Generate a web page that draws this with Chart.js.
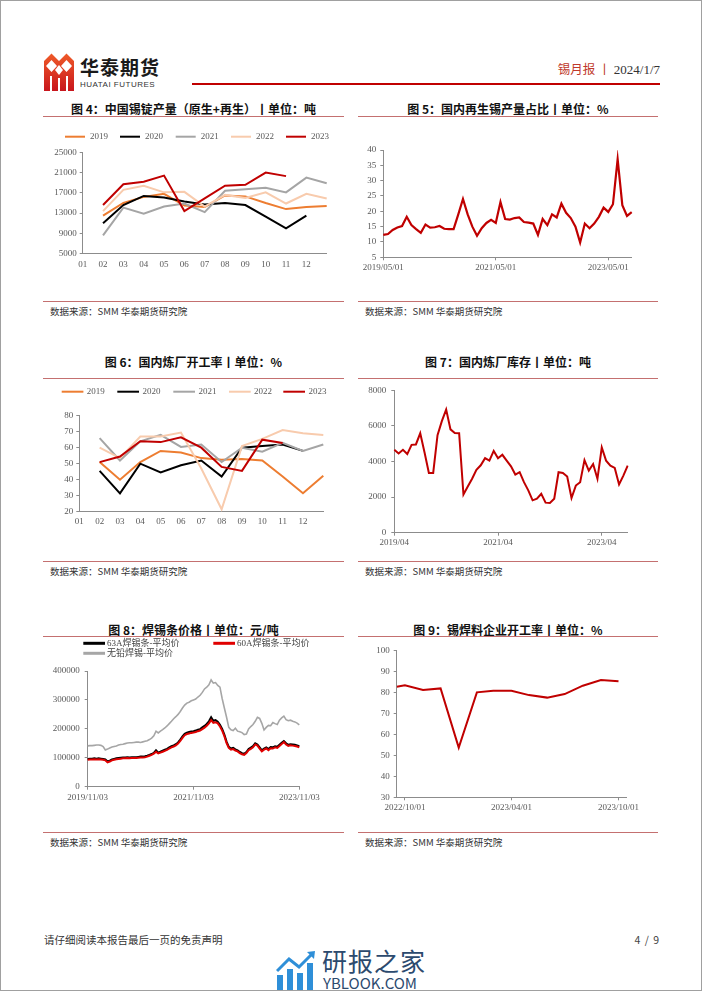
<!DOCTYPE html>
<html lang="zh-CN">
<head>
<meta charset="utf-8">
<title>锡月报</title>
<script src="https://cdn.jsdelivr.net/npm/chart.js@4.4.1/dist/chart.umd.min.js"></script>
<style>
  html, body { margin: 0; padding: 0; background: #fff; }
  #page { position: relative; width: 702px; height: 991px; overflow: hidden; font-family: "Noto Sans CJK SC", "Noto Sans", sans-serif; }
  #frame { position: absolute; left: 0; top: 0; width: 702px; height: 991px; box-sizing: border-box; border: 1px solid #a0a0a0; pointer-events: none; }
  .t { position: absolute; white-space: nowrap; }
  .title { font-weight: bold; font-size: 12px; color: #111; transform: translate(-50%, -50%); }
  .rule { position: absolute; height: 1px; background: #c47070; }
  .src { font-size: 9.5px; color: #333; transform: translateY(-50%); }
  canvas { position: absolute; }
</style>
</head>
<body>
<div id="page">
  <!-- header -->
  <svg class="t" style="left:44px;top:52px" width="30" height="39" viewBox="0 0 30 39">
    <defs><linearGradient id="lg" x1="0" y1="0" x2="0" y2="1"><stop offset="0" stop-color="#ef5a28"/><stop offset="1" stop-color="#c8161d"/></linearGradient></defs>
    <path d="M0 9 L7.5 1.5 L15 9 L22.5 1.5 L30 9 L30 39 L0 39 Z" fill="url(#lg)"/>
    <path d="M7.5 8 L13 14 L7.5 20 L2 14 Z M22.5 8 L28 14 L22.5 20 L17 14 Z" fill="#fff"/>
    <path d="M15 13 L19 18 L15 23 L11 18 Z" fill="#fff"/>
    <rect x="6" y="24" width="2" height="15" fill="#fff"/>
    <rect x="14" y="26" width="2" height="13" fill="#fff"/>
    <rect x="22" y="24" width="2" height="15" fill="#fff"/>
  </svg>
  <div class="t" style="left:80px;top:55px;font-size:19px;font-weight:bold;color:#1a1a1a;letter-spacing:1px;line-height:24px">华泰期货</div>
  <div class="t" style="left:80px;top:80px;font-size:8px;font-family:'Liberation Sans',Arial,sans-serif;color:#333;letter-spacing:0.5px;line-height:10px">HUATAI FUTURES</div>
  <div class="t" style="left:192px;top:83px;width:468px;height:2px;background:#c00000"></div>
  <div class="t" style="right:42px;top:58px;line-height:18px">
    <span style="font-size:12.5px;color:#c0392b">锡月报</span><span style="font-size:12.5px;color:#c0392b;margin:0 3px">丨</span><span style="font-family:'Liberation Serif',serif;font-size:13px;color:#333">2024/1/7</span>
  </div>

  <!-- titles -->
  <div class="t title" style="left:193.5px;top:108.3px">图 4：中国锡锭产量（原生+再生）丨单位：吨</div>
  <div class="t title" style="left:508px;top:108.3px">图 5：国内再生锡产量占比丨单位：%</div>
  <div class="t title" style="left:193.5px;top:361px">图 6：国内炼厂开工率丨单位：%</div>
  <div class="t title" style="left:508px;top:361px">图 7：国内炼厂库存丨单位：吨</div>
  <div class="t title" style="left:193.5px;top:629.3px">图 8：焊锡条价格丨单位：元/吨</div>
  <div class="t title" style="left:508px;top:629.3px">图 9：锡焊料企业开工率丨单位：%</div>
  <div class="rule" style="left:43px;top:116px;width:301px"></div>
  <div class="rule" style="left:358px;top:116px;width:300px"></div>
  <div class="rule" style="left:43px;top:378px;width:301px"></div>
  <div class="rule" style="left:358px;top:378px;width:300px"></div>
  <div class="rule" style="left:43px;top:636px;width:301px"></div>
  <div class="rule" style="left:358px;top:636px;width:300px"></div>

  <!-- charts -->
  <canvas id="c4" width="301" height="162" style="left:43px;top:120px"></canvas>
  <canvas id="c5" width="300" height="160" style="left:358px;top:120px"></canvas>
  <canvas id="c6" width="301" height="162" style="left:43px;top:380px"></canvas>
  <canvas id="c7" width="300" height="172" style="left:358px;top:380px"></canvas>
  <canvas id="c8" width="301" height="171" style="left:43px;top:636px"></canvas>
  <canvas id="c9" width="300" height="176" style="left:358px;top:640px"></canvas>

  <!-- sources -->
  <div class="rule" style="left:43px;top:301px;width:301px"></div>
  <div class="rule" style="left:358px;top:301px;width:300px"></div>
  <div class="rule" style="left:43px;top:561px;width:301px"></div>
  <div class="rule" style="left:358px;top:561px;width:300px"></div>
  <div class="rule" style="left:43px;top:832px;width:301px"></div>
  <div class="rule" style="left:358px;top:832px;width:300px"></div>
  <div class="t src" style="left:50px;top:311px">数据来源：SMM 华泰期货研究院</div>
  <div class="t src" style="left:365px;top:311px">数据来源：SMM 华泰期货研究院</div>
  <div class="t src" style="left:50px;top:571px">数据来源：SMM 华泰期货研究院</div>
  <div class="t src" style="left:365px;top:571px">数据来源：SMM 华泰期货研究院</div>
  <div class="t src" style="left:50px;top:842px">数据来源：SMM 华泰期货研究院</div>
  <div class="t src" style="left:365px;top:842px">数据来源：SMM 华泰期货研究院</div>

  <!-- footer -->
  <div class="t" style="left:44px;top:932px;font-size:10.5px;color:#333;line-height:16px">请仔细阅读本报告最后一页的免责声明</div>
  <div class="t" style="right:42px;top:932px;font-size:10.5px;color:#444;line-height:16px;letter-spacing:1px">4 / 9</div>
  <svg class="t" style="left:276px;top:951px" width="40" height="39" viewBox="0 0 40 39">
    <rect x="1" y="24" width="6" height="15" fill="#2f8fd8"/>
    <rect x="11" y="18" width="6" height="21" fill="#2f8fd8"/>
    <rect x="21" y="22" width="6" height="17" fill="#2f8fd8"/>
    <rect x="31" y="12" width="6" height="27" fill="#2f8fd8"/>
    <path d="M1 20 L13 8 L23 16 L36 3" stroke="#2f8fd8" stroke-width="3" fill="none"/>
    <path d="M31 1 L39 0 L38 8 Z" fill="#2f8fd8"/>
  </svg>
  <div class="t" style="left:322px;top:946px;font-size:25px;color:#2c4a6e;line-height:28px;letter-spacing:1px">研报之家</div>
  <div class="t" style="left:323px;top:975px;font-size:15px;color:#2c4a6e;line-height:15px">YBLOOK.COM</div>

  <div id="frame"></div>
</div>

<script>
// ---------- data ----------
// 图4 中国锡锭产量 (吨), 13 slots on the axis, first slot empty
const monthSlots = ['01', '02', '03', '04', '05', '06', '07', '08', '09', '10', '11', '12', ''];
const yearNames = ['2019', '2020', '2021', '2022', '2023'];
const yearColors = ['#ed7d31', '#000000', '#a5a5a5', '#f8cbad', '#c00000'];

const output2019 = [null, 12500, 15000, 16200, 16800, 14500, 14200, 16500, 16300, 15000, 13800, 14200, 14400];
const output2020 = [null, 11000, 14600, 16400, 16100, 15300, 14700, 15000, 14600, 12300, 10000, 12500, null];
const output2021 = [null, 8600, 14100, 12900, 14300, 14900, 13200, 17400, 17700, 18000, 17100, 20000, 18900];
const output2022 = [null, 13400, 17600, 18400, 17100, 17200, 14300, 16600, 16000, 17100, 14900, 16800, 15900];
const output2023 = [null, 14600, 18700, 19200, 20400, 13400, 15900, 18400, 18600, 21000, 20300, null, null];

// 图6 国内炼厂开工率 (%)
const rate2019 = [null, 51, 40, 51, 58, 57, 53.5, 52.5, 53, 52, 42, 31.5, 42.5];
const rate2020 = [null, 45.5, 31.5, 50, 44.5, 49, 52, 42, 60, 61, 62, 58, null];
const rate2021 = [null, 66, 52, 64, 68, 60.5, 62, 51, 60, 57.5, 63, 58, 62];
const rate2022 = [null, 60, 53.5, 67, 67, 69.5, 47, 21.5, 61, 65.5, 71, 69, 68];
const rate2023 = [null, 51, 54.5, 64, 63.5, 66.5, 60, 48, 45.5, 65, 63, null, null];

// 图5 国内再生锡产量占比 (%), monthly from 2019/05
const recycledShare = [12.3, 12.6, 13.9, 14.7, 15.2, 18.2, 15.5, 14.2, 13.0, 15.7,
  14.7, 14.8, 15.2, 14.3, 14.2, 14.2, 19.0, 24.0, 19.0, 15.0,
  12.0, 14.5, 16.2, 17.2, 16.2, 23.0, 17.5, 17.3, 17.8, 18.0,
  16.5, 16.3, 16.0, 12.3, 17.5, 15.5, 19.0, 18.0, 22.5, 19.5,
  17.8, 15.0, 9.8, 16.0, 14.5, 16.0, 18.2, 21.2, 19.8, 22.3,
  37.0, 22.0, 18.5, 19.7];
const shareTicks = ['2019/05/01', '2021/05/01', '2023/05/01'];

// 图7 国内炼厂库存 (吨), monthly from 2019/04
const smelterStock = [4660, 4450, 4660, 4420, 4940, 4960, 5590, 4510, 3360, 3360,
  5480, 6270, 6920, 5810, 5610, 5590, 2150, 2600, 3030, 3530,
  3790, 4190, 4050, 4600, 4190, 4380, 4050, 3730, 3270, 3400,
  2840, 2380, 1820, 1910, 2190, 1690, 1670, 1910, 3400, 3360,
  3160, 1950, 2650, 2840, 4080, 3490, 3860, 3030, 4790, 4050,
  3770, 3640, 2710, 3210, 3770];
const stockTicks = ['2019/04', '2021/04', '2023/04'];

// 图8 焊锡条价格 (元/吨), twice a month from 2019/11/03
const solder63A = [96000, 97000, 97000, 98000, 97000, 98000, 97000, 96000, 94000, 87000,
  90000, 94000, 96000, 98000, 99000, 100000, 101000, 101000, 102000, 101000,
  102000, 102000, 102000, 103000, 104000, 104000, 105000, 107000, 110000, 113000,
  117000, 126000, 118000, 121000, 125000, 128000, 131000, 136000, 140000, 143000,
  147000, 153000, 163000, 174000, 183000, 187000, 189000, 191000, 192000, 194000,
  197000, 199000, 205000, 210000, 217000, 226000, 240000, 228000, 230000, 225000,
  214000, 200000, 180000, 156000, 138000, 132000, 134000, 129000, 126000, 120000,
  116000, 114000, 120000, 130000, 135000, 140000, 150000, 146000, 136000, 126000,
  132000, 136000, 130000, 137000, 136000, 140000, 138000, 145000, 152000, 158000,
  150000, 145000, 147000, 146000, 145000, 143000, 140000];
const solder60A = [93000, 94000, 94000, 95000, 94000, 95000, 94000, 93000, 91000, 84000,
  87000, 91000, 93000, 95000, 96000, 97000, 98000, 98000, 99000, 98000,
  99000, 99000, 99000, 100000, 101000, 101000, 102000, 104000, 107000, 110000,
  114000, 121000, 115000, 118000, 121000, 124000, 127000, 132000, 136000, 139000,
  143000, 149000, 158000, 169000, 178000, 182000, 184000, 186000, 187000, 189000,
  192000, 194000, 199000, 204000, 211000, 219000, 230000, 221000, 223000, 219000,
  208000, 194000, 175000, 151000, 134000, 128000, 130000, 125000, 122000, 116000,
  112000, 110000, 116000, 126000, 131000, 136000, 146000, 142000, 132000, 122000,
  128000, 132000, 126000, 133000, 132000, 136000, 134000, 141000, 148000, 154000,
  146000, 141000, 143000, 142000, 141000, 139000, 136000];
const solderLeadFree = [141000, 142000, 142000, 143000, 144000, 144000, 143000, 139000, 127000, 130000,
  134000, 137000, 139000, 141000, 144000, 146000, 147000, 149000, 151000, 152000,
  152000, 153000, 154000, 154000, 153000, 155000, 157000, 159000, 163000, 168000,
  176000, 192000, 186000, 192000, 197000, 203000, 210000, 218000, 226000, 235000,
  242000, 250000, 260000, 272000, 282000, 289000, 292000, 297000, 300000, 303000,
  310000, 316000, 326000, 338000, 344000, 352000, 369000, 358000, 360000, 350000,
  344000, 305000, 272000, 240000, 205000, 197000, 194000, 202000, 192000, 190000,
  187000, 180000, 182000, 200000, 208000, 215000, 226000, 240000, 236000, 219000,
  196000, 205000, 212000, 211000, 222000, 218000, 215000, 230000, 238000, 244000,
  232000, 228000, 230000, 226000, 224000, 220000, 214000];
const solderNames = ['63A焊锡条-平均价', '60A焊锡条-平均价', '无铅焊锡-平均价'];
const solderTicks = ['2019/11/03', '2021/11/03', '2023/11/03'];

// 图9 锡焊料企业开工率 (%)
const solderDates = ['2022/09/17', '2022/10/01', '2022/11/01', '2022/12/01', '2023/01/01', '2023/02/01', '2023/03/01',
  '2023/04/01', '2023/05/01', '2023/06/01', '2023/07/01', '2023/08/01', '2023/09/01', '2023/10/01'];
const solderRate = [82.8, 83.5, 81.2, 82.0, 53.7, 80.1, 80.9, 80.9, 78.8, 77.6, 79.3, 83.3, 86.0, 85.4];
const solderRateTicks = ['2022/10/01', '2023/04/01', '2023/10/01'];
const solderRateEnd = '2023/10/15';

// ---------- helpers ----------
const SERIF = '"Liberation Serif", "Times New Roman", serif';
const AXIS = '#8c8c8c';
const LABEL = '#595959';
Chart.defaults.animation = false;
Chart.defaults.font.family = SERIF;

function monthLabels(year, month, count, day) {
  const out = [];
  for (let i = 0; i < count; i++) {
    const m = month - 1 + i;
    const s = (year + Math.floor(m / 12)) + '/' + String(m % 12 + 1).padStart(2, '0');
    out.push(day ? s + '/' + day : s);
  }
  return out;
}
function halfMonthLabels(year, month, count) {
  const out = [];
  for (let k = 0; k < count; k++) {
    const m = month - 1 + Math.floor(k / 2);
    out.push((year + Math.floor(m / 12)) + '/' + String(m % 12 + 1).padStart(2, '0') + (k % 2 ? '/18' : '/03'));
  }
  return out;
}
const dayNum = s => { const [y, m, d] = s.split('/').map(Number); return Date.UTC(y, m - 1, d) / 86400000; };

function yAxis(min, max, step, width, pad) {
  return {
    min, max,
    ticks: { stepSize: step, color: LABEL, font: { size: 9 }, padding: pad, callback: v => String(v) },
    grid: { drawOnChartArea: false, drawTicks: true, tickLength: 3, color: AXIS },
    border: { color: AXIS },
    afterFit: s => { s.width = width; }
  };
}
function xAxis(height, tickLen, pad, keepLabels) {
  const cfg = {
    type: 'category', offset: false,
    ticks: { autoSkip: false, maxRotation: 0, color: LABEL, font: { size: 9 }, padding: pad },
    grid: { drawOnChartArea: false, drawTicks: tickLen > 0, tickLength: tickLen, color: AXIS },
    border: { color: AXIS },
    afterFit: s => { s.height = height; }
  };
  if (keepLabels) {
    cfg.afterBuildTicks = s => {
      const labels = s.chart.data.labels;
      s.ticks = s.ticks.filter(t => keepLabels.includes(labels[t.value]));
    };
  }
  return cfg;
}
function line(label, data, color, width, order) {
  return { label, data, borderColor: color, backgroundColor: color, borderWidth: width,
    pointRadius: 0, tension: 0, order, spanGaps: false };
}

// legend drawn on the canvas: short line + label
const lineLegend = {
  id: 'lineLegend',
  afterDraw(chart, args, o) {
    if (!o.at) return;
    const ctx = chart.ctx;
    ctx.save();
    ctx.font = o.font;
    ctx.textBaseline = 'middle';
    chart.data.datasets.forEach((ds, i) => {
      const [x, y] = o.at[i];
      ctx.strokeStyle = ds.borderColor;
      ctx.lineWidth = o.lineWidth;
      ctx.beginPath();
      ctx.moveTo(x, y);
      ctx.lineTo(x + o.len, y);
      ctx.stroke();
      ctx.fillStyle = o.color;
      ctx.fillText(ds.label, x + o.len + o.gap, y);
    });
    ctx.restore();
  }
};

const base = (padding) => ({
  responsive: false, events: [],
  layout: { padding },
  plugins: { legend: { display: false }, tooltip: { enabled: false } }
});

// ---------- 图4 ----------
const output = [output2019, output2020, output2021, output2022, output2023];
new Chart(document.getElementById('c4'), {
  type: 'line',
  data: { labels: monthSlots, datasets: output.map((d, i) => line(yearNames[i], d, yearColors[i], 2, 4 - i)) },
  options: Object.assign(base({ left: 9.7, right: 17.3, top: 32.3, bottom: 8.3 }), {
    scales: { x: xAxis(20, 0, 5.6), y: yAxis(5000, 25000, 4000, 30, 3) },
    plugins: { legend: { display: false }, tooltip: { enabled: false },
      lineLegend: { at: [[22, 16.7], [77, 16.7], [132.7, 16.7], [188, 16.7], [243, 16.7]],
        len: 20, gap: 5, lineWidth: 2, font: '9px ' + SERIF, color: LABEL } }
  }),
  plugins: [lineLegend]
});

// ---------- 图5 ----------
new Chart(document.getElementById('c5'), {
  type: 'line',
  data: { labels: monthLabels(2019, 5, recycledShare.length, '01'),
    datasets: [line('国内再生锡产量占比', recycledShare, '#c00000', 2.2, 0)] },
  options: Object.assign(base({ left: 3.3, right: 26.3, top: 30, bottom: 2.7 }), {
    scales: { x: xAxis(20, 3, 2.3, shareTicks), y: yAxis(5, 40, 5, 22, 4) }
  })
});

// ---------- 图6 ----------
const rates = [rate2019, rate2020, rate2021, rate2022, rate2023];
new Chart(document.getElementById('c6'), {
  type: 'line',
  data: { labels: monthSlots, datasets: rates.map((d, i) => line(yearNames[i], d, yearColors[i], 2, 4 - i)) },
  options: Object.assign(base({ left: 6.3, right: 20.7, top: 35.7, bottom: 10.3 }), {
    scales: { x: xAxis(20, 0, 4.3), y: yAxis(20, 80, 10, 30, 3) },
    plugins: { legend: { display: false }, tooltip: { enabled: false },
      lineLegend: { at: [[18.7, 11.7], [74.3, 11.7], [130.3, 11.7], [186, 11.7], [240.3, 11.7]],
        len: 21.7, gap: 3.4, lineWidth: 2, font: '9px ' + SERIF, color: LABEL } }
  }),
  plugins: [lineLegend]
});

// ---------- 图7 ----------
new Chart(document.getElementById('c7'), {
  type: 'line',
  data: { labels: monthLabels(2019, 4, smelterStock.length),
    datasets: [line('国内炼厂库存', smelterStock, '#c00000', 2, 0)] },
  options: Object.assign(base({ left: 6.3, right: 30.3, top: 9, bottom: 1.3 }), {
    scales: { x: xAxis(18, 3, 2, stockTicks), y: yAxis(0, 8000, 2000, 30, 5) }
  })
});

// ---------- 图8 ----------
new Chart(document.getElementById('c8'), {
  type: 'line',
  data: { labels: halfMonthLabels(2019, 11, solder63A.length),
    datasets: [
      line(solderNames[0], solder63A, '#000000', 2, 1),
      line(solderNames[1], solder60A, '#e00000', 2, 0),
      line(solderNames[2], solderLeadFree, '#a6a6a6', 1.6, 2)
    ] },
  options: Object.assign(base({ left: 6.7, right: 44.7, top: 35, bottom: 2.3 }), {
    scales: { x: xAxis(18, 3, 3, solderTicks), y: yAxis(0, 400000, 100000, 38, 5) },
    plugins: { legend: { display: false }, tooltip: { enabled: false },
      lineLegend: { at: [[40.3, 7.3], [170.3, 7.3], [40.3, 17.3]],
        len: 21.7, gap: 2, lineWidth: 3, font: '9px "Liberation Serif", "Noto Sans CJK SC", serif', color: '#404040' } }
  }),
  plugins: [lineLegend]
});

// ---------- 图9 ----------
const rateTickDays = solderRateTicks.map(dayNum);
new Chart(document.getElementById('c9'), {
  type: 'line',
  data: { datasets: [line('锡焊料企业开工率', solderRate.map((v, i) => ({ x: dayNum(solderDates[i]), y: v })), '#c00000', 2, 0)] },
  options: Object.assign(base({ left: 12.7, right: 31.3, top: 10.7, bottom: 0.7 }), {
    scales: {
      x: {
        type: 'linear', min: dayNum(solderDates[0]), max: dayNum(solderRateEnd),
        afterBuildTicks: s => { s.ticks = rateTickDays.map(v => ({ value: v })); },
        ticks: { color: LABEL, font: { size: 9 }, padding: 2, maxRotation: 0,
          callback: v => solderRateTicks[rateTickDays.indexOf(v)] || '' },
        grid: { drawOnChartArea: false, drawTicks: true, tickLength: 3, color: AXIS },
        border: { color: AXIS },
        afterFit: s => { s.height = 18; }
      },
      y: yAxis(30, 100, 10, 26, 4)
    }
  })
});
</script>
</body>
</html>
